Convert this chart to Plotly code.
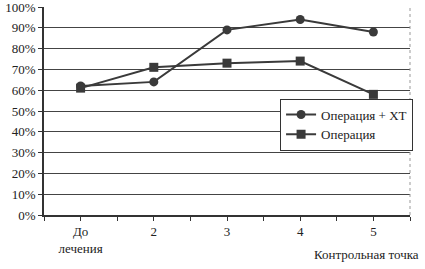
import plotly.graph_objects as go

categories = ["До<br>лечения", "2", "3", "4", "5"]
op_xt = [62, 64, 89, 94, 88]
op = [61, 71, 73, 74, 58]
y_ticks = list(range(0, 101, 10))
y_tick_labels = [f"{v}%" for v in y_ticks]

FAM = "Liberation Serif, Times New Roman, serif"
xs = list(range(len(categories)))

fig = go.Figure()
fig.add_trace(go.Scatter(
    x=xs, y=op_xt, name="Операция + ХТ", mode="lines+markers",
    line=dict(color="#3a3a3a", width=2),
    marker=dict(symbol="circle", size=9, color="#3a3a3a"),
))
fig.add_trace(go.Scatter(
    x=xs, y=op, name="Операция", mode="lines+markers",
    line=dict(color="#3a3a3a", width=2),
    marker=dict(symbol="square", size=9, color="#3a3a3a"),
))

fig.update_layout(
    width=425, height=269,
    margin=dict(l=44, r=15, t=7, b=54),
    paper_bgcolor="white", plot_bgcolor="white",
    font=dict(family=FAM, size=13, color="#222"),
    showlegend=True,
    legend=dict(
        x=0.645, y=0.56, xanchor="left", yanchor="top",
        bgcolor="white", bordercolor="#333", borderwidth=1,
        font=dict(family=FAM, size=13, color="#222"),
        tracegroupgap=0, itemwidth=30,
    ),
    xaxis=dict(
        range=[-0.5, 4.5], tickvals=xs, ticktext=categories,
        showgrid=False, zeroline=False, automargin=False,
        showline=True, linecolor="#333", linewidth=1.5,
        ticks="outside", ticklen=4, tickcolor="#333",
        minor=dict(tick0=-0.5, dtick=1, ticks="outside", ticklen=4, tickcolor="#333"),
        tickfont=dict(family=FAM, size=13, color="#222"),
    ),
    yaxis=dict(
        range=[0, 100], tickvals=y_ticks, ticktext=y_tick_labels,
        showgrid=True, gridcolor="#444", gridwidth=1.3,
        zeroline=False, showline=True, linecolor="#333", linewidth=1.5,
        automargin=False,
        ticks="outside", ticklen=4, tickcolor="#333",
        ticklabeloverflow="allow",
        tickfont=dict(family=FAM, size=13, color="#222"),
    ),
    annotations=[dict(
        text="Контрольная точка", xref="paper", yref="paper",
        x=1.03, y=-0.235, xanchor="right", yanchor="bottom", showarrow=False,
        font=dict(family=FAM, size=13, color="#222"),
    )],
    shapes=[dict(type="line", xref="paper", yref="paper", x0=1, x1=1, y0=0, y1=1,
                 line=dict(color="#999", width=1, dash="dot"))],
)

fig.write_html("out.html", config={"displayModeBar": False},
               post_script="document.body.style.margin='0';document.body.style.overflow='hidden';")
